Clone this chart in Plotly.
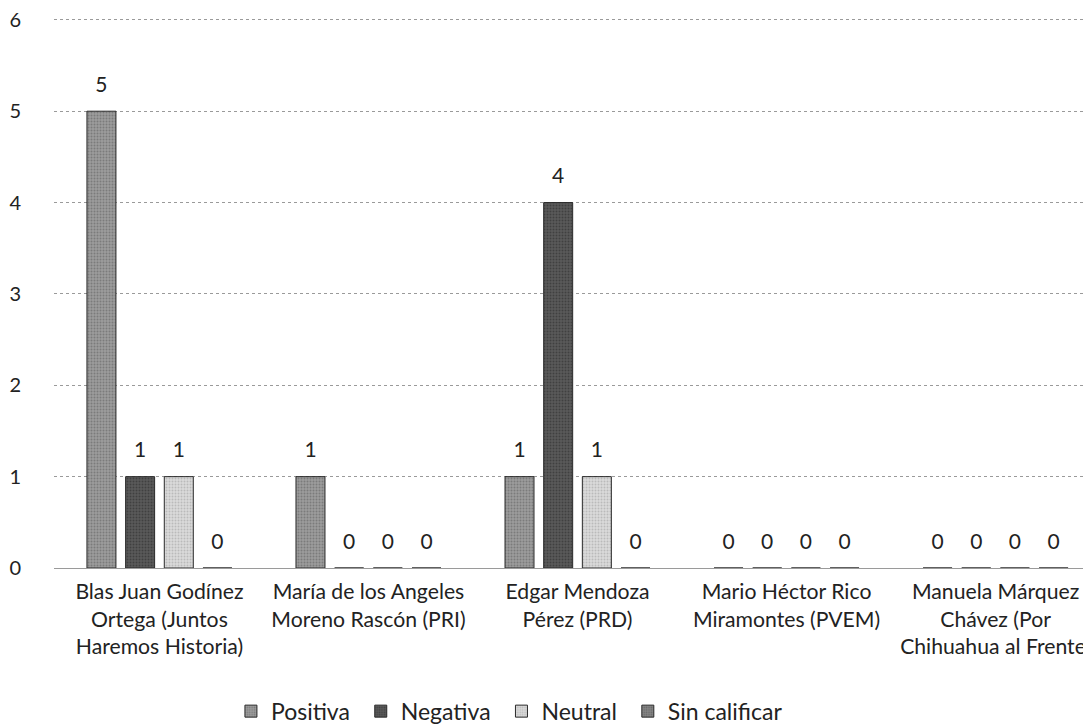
import plotly.graph_objects as go

# Candidates and their rating counts
candidates = [
    "Blas Juan Godínez<br>Ortega (Juntos<br>Haremos Historia)",
    "María de los Angeles<br>Moreno Rascón (PRI)",
    "Edgar Mendoza<br>Pérez (PRD)",
    "Mario Héctor Rico<br>Miramontes (PVEM)",
    "Manuela Márquez<br>Chávez (Por<br>Chihuahua al Frente)",
]
positiva = [5, 1, 1, 0, 0]
negativa = [1, 0, 4, 0, 0]
neutral = [1, 0, 1, 0, 0]
sin_calificar = [0, 0, 0, 0, 0]

y_ticks = [0, 1, 2, 3, 4, 5, 6]

# name, values, base colour, dot colour (the scan has a grainy halftone look)
series = [
    ("Positiva", positiva, "#9c9c9c", "#5a5a5a"),
    ("Negativa", negativa, "#5a5a5a", "#262626"),
    ("Neutral", neutral, "#dadada", "#9a9a9a"),
    ("Sin calificar", sin_calificar, "#858585", "#4a4a4a"),
]

font_family = "Lato, 'Open Sans', sans-serif"

# the page body has an 8px margin, so the figure is a bit smaller than the window
fig_w, fig_h = 1083, 719

fig = go.Figure()
for i, (name, values, color, dots) in enumerate(series):
    # a non-breaking space widens the legend entries a little, like the original
    pad = "\u00a0" if i < 3 else ""
    fig.add_trace(go.Bar(
        name=name + pad,
        x=candidates,
        y=values,
        text=values,
        # small blank line under the number lifts the label off the bar top
        texttemplate="<span style='font-size:21px'>%{text}</span><br> ",
        textposition="outside",
        textfont=dict(size=11, color="#222222", family=font_family),
        cliponaxis=False,
        marker=dict(
            color=color,
            line=dict(color="#2a2a2a", width=1),
            pattern=dict(shape=".", fgcolor=dots, bgcolor=color, size=3, solidity=0.35),
        ),
    ))

fig.update_layout(
    width=fig_w,
    height=fig_h,
    barmode="group",
    bargap=0.26,
    bargroupgap=0.25,
    plot_bgcolor="white",
    paper_bgcolor="white",
    margin=dict(l=46, r=0, t=10, b=159),
    font=dict(family=font_family, size=20, color="#222222"),
    legend=dict(
        orientation="h",
        xref="container",
        yref="container",
        x=0.463,
        xanchor="center",
        y=0.022,
        yanchor="middle",
        font=dict(size=23, color="#222222"),
        itemwidth=30,
    ),
)

fig.update_xaxes(
    range=[-0.5045, 4.4565],
    showgrid=False,
    showline=False,
    ticks="",
    automargin=False,
    ticklabelstandoff=9,
    tickfont=dict(size=21.2, color="#222222"),
    tickangle=0,
)

fig.update_yaxes(
    range=[0, 6.02],
    tickvals=y_ticks,
    showgrid=True,
    gridcolor="#9a9a9a",
    griddash="dot",
    gridwidth=1,
    zeroline=True,
    zerolinecolor="#9a9a9a",
    zerolinewidth=1,
    showline=False,
    ticks="",
    automargin=False,
    ticklabeloverflow="allow",
    ticklabelstandoff=32,
    tickfont=dict(size=20, color="#222222"),
)

fig.write_html("out.html")
